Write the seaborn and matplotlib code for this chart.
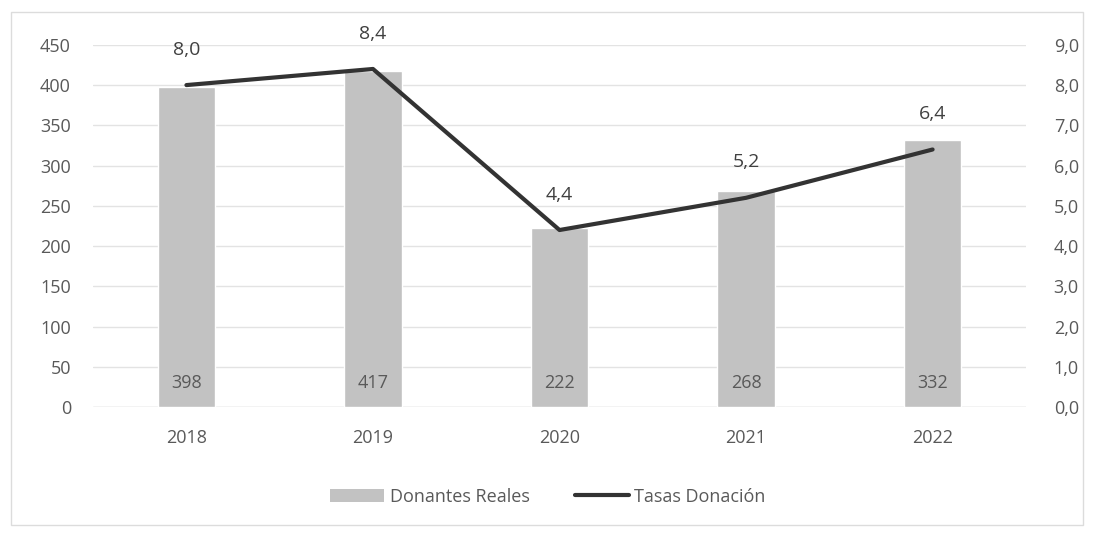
import numpy as np
import matplotlib
matplotlib.use("Agg")
import matplotlib.pyplot as plt
import seaborn as sns
from matplotlib.patches import Patch, Rectangle
from matplotlib.lines import Line2D

# data
years = ["2018", "2019", "2020", "2021", "2022"]
donantes = [398, 417, 222, 268, 332]
tasas = [8.0, 8.4, 4.4, 5.2, 6.4]

sns.set_theme(style="white")
plt.rcParams['font.family'] = ['Open Sans', 'DejaVu Sans']

bar_color = "#c2c2c2"
line_color = "#333333"
text_color = "#595959"

fig = plt.figure(figsize=(10.96, 5.4), dpi=100)
ax = fig.add_axes([0.085, 0.246, 0.851, 0.671])

sns.barplot(x=years, y=donantes, color=bar_color, width=0.31, ax=ax, saturation=1)
ax.set_ylim(0, 450)
ax.set_yticks(np.arange(0, 451, 50))
ax.set_xlim(-0.5, len(years) - 0.5)
ax.yaxis.grid(True, color="#e3e3e3", linewidth=1)
ax.set_axisbelow(True)
for s in ax.spines.values():
    s.set_visible(False)
ax.axhline(0, color="#d9d9d9", linewidth=1, zorder=0)
ax.tick_params(axis="x", length=0, labelsize=13, colors=text_color, pad=16)
ax.tick_params(axis="y", length=0, labelsize=13, colors=text_color, pad=16)
ax.set_xlabel("")
ax.set_ylabel("")

# bar labels near bottom
for i, v in enumerate(donantes):
    ax.text(i, 30, str(v), ha="center", va="center", fontsize=13, color=text_color)

ax2 = ax.twinx()
xs = np.arange(len(years))
sns.lineplot(x=xs, y=tasas, ax=ax2, color=line_color, linewidth=3)
ax2.set_ylim(0, 9)
ax2.set_yticks(np.arange(0, 9.1, 1))
ax2.set_yticklabels([f"{t:.1f}".replace(".", ",") for t in np.arange(0, 9.1, 1)])
ax2.tick_params(axis="y", length=0, labelsize=13, colors=text_color, pad=20)
for s in ax2.spines.values():
    s.set_visible(False)
ax2.set_ylabel("")

for i, t in enumerate(tasas):
    ax2.annotate(f"{t:.1f}".replace(".", ","), (i, t), xytext=(0, 19),
                 textcoords="offset points", ha="center", va="bottom",
                 fontsize=14, color="#404040")

handles = [Patch(facecolor=bar_color, edgecolor="none"),
           Line2D([0], [0], color=line_color, linewidth=3)]
fig.legend(handles, ["Donantes Reales", "Tasas Donación"], loc="center",
           bbox_to_anchor=(0.5, 0.08), ncol=2, frameon=False, fontsize=13,
           labelcolor=text_color, handlelength=3, columnspacing=2.5,
           handletextpad=0.3)

# outer chart border
fig.patches.append(Rectangle((0.01, 0.028), 0.978, 0.95, transform=fig.transFigure,
                             fill=False, edgecolor="#dcdcdc", linewidth=1))

fig.savefig("out.png", dpi=100)
